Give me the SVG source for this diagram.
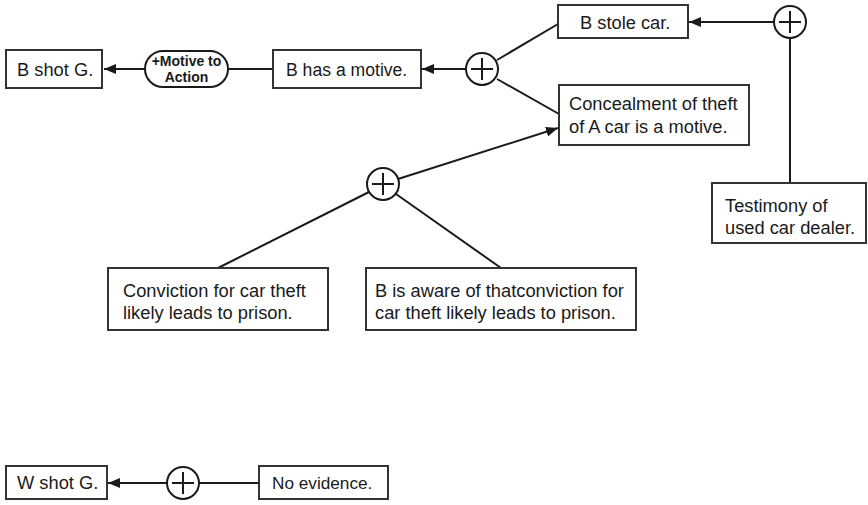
<svg xmlns="http://www.w3.org/2000/svg" width="868" height="505" viewBox="0 0 868 505">
  <defs>
    <marker id="arrow" viewBox="0 0 12 10" refX="12" refY="5" markerWidth="12" markerHeight="10" markerUnits="userSpaceOnUse" orient="auto">
      <path d="M0,0 L12,5 L0,10 Z" fill="#1a1a1a"/>
    </marker>
    <g id="plus">
      <circle cx="0" cy="0" r="16" fill="#fff" stroke="#1a1a1a" stroke-width="2"/>
      <path d="M-11,0 H11 M0,-11 V11" stroke="#1a1a1a" stroke-width="2" fill="none"/>
    </g>
  </defs>
  <style>
    .box { fill: #fff; stroke: #333; stroke-width: 2; }
    .pill { fill: #fff; stroke: #1a1a1a; stroke-width: 2; }
    .edge { stroke: #1a1a1a; stroke-width: 2; fill: none; }
    .t { font-family: "Liberation Sans", Arial, sans-serif; font-size: 18.3px; fill: #1a1a1a; }
    .tb { font-family: "Liberation Sans", Arial, sans-serif; font-size: 14px; font-weight: bold; fill: #1a1a1a; }
  </style>

  <rect width="868" height="505" fill="#fff"/>

  <!-- connectors -->
  <g id="connectors">
    <!-- upper argument -->
    <line class="edge" x1="145" y1="69" x2="104" y2="69" marker-end="url(#arrow)"/>
    <line class="edge" x1="273" y1="69" x2="228" y2="69"/>
    <line class="edge" x1="466" y1="69" x2="422" y2="69" marker-end="url(#arrow)"/>
    <line class="edge" x1="497" y1="60" x2="558" y2="24"/>
    <line class="edge" x1="497" y1="79" x2="559" y2="114"/>
    <line class="edge" x1="774" y1="22" x2="689" y2="22" marker-end="url(#arrow)"/>
    <line class="edge" x1="790" y1="38" x2="790" y2="183"/>
    <line class="edge" x1="398" y1="179" x2="558" y2="128" marker-end="url(#arrow)"/>
    <line class="edge" x1="369" y1="192" x2="218" y2="268"/>
    <line class="edge" x1="396" y1="194" x2="501" y2="268"/>
    <!-- lower argument -->
    <line class="edge" x1="167" y1="483" x2="108" y2="483" marker-end="url(#arrow)"/>
    <line class="edge" x1="199" y1="483" x2="259" y2="483"/>
  </g>

  <g id="b-shot-g">
    <rect class="box" x="6" y="50" width="96" height="38"/>
    <text class="t" x="17" y="76">B shot G.</text>
  </g>

  <g id="motive-to-action">
    <rect class="pill" x="145" y="51" width="83" height="36" rx="18" ry="18"/>
    <text class="tb" x="186.5" y="66" text-anchor="middle">+Motive to</text>
    <text class="tb" x="186.5" y="82" text-anchor="middle">Action</text>
  </g>

  <g id="b-has-motive">
    <rect class="box" x="273" y="50" width="148" height="38"/>
    <text class="t" x="286" y="76" style="font-size:17.6px">B has a motive.</text>
  </g>

  <g id="and-motive">
    <use href="#plus" x="482" y="69"/>
  </g>

  <g id="b-stole-car">
    <rect class="box" x="558" y="5" width="130" height="33"/>
    <text class="t" x="580" y="29">B stole car.</text>
  </g>

  <g id="and-stole">
    <use href="#plus" x="790" y="22"/>
  </g>

  <g id="concealment">
    <rect class="box" x="559" y="85" width="190" height="60"/>
    <text class="t" x="569" y="110">Concealment of theft</text>
    <text class="t" x="569" y="133">of A car is a motive.</text>
  </g>

  <g id="testimony">
    <rect class="box" x="712" y="183" width="154" height="60"/>
    <text class="t" x="725" y="212">Testimony of</text>
    <text class="t" x="725" y="234">used car dealer.</text>
  </g>

  <g id="and-concealment">
    <use href="#plus" x="383" y="184"/>
  </g>

  <g id="conviction">
    <rect class="box" x="108" y="268" width="220" height="62"/>
    <text class="t" x="123" y="297">Conviction for car theft</text>
    <text class="t" x="123" y="319">likely leads to prison.</text>
  </g>

  <g id="aware">
    <rect class="box" x="366" y="268" width="270" height="62"/>
    <text class="t" x="375" y="297">B is aware of thatconviction for</text>
    <text class="t" x="375" y="319">car theft likely leads to prison.</text>
  </g>

  <g id="w-shot-g">
    <rect class="box" x="6" y="466" width="101" height="33"/>
    <text class="t" x="17" y="489">W shot G.</text>
  </g>

  <g id="and-w">
    <use href="#plus" x="183" y="483"/>
  </g>

  <g id="no-evidence">
    <rect class="box" x="259" y="466" width="129" height="33"/>
    <text class="t" x="272" y="489" style="font-size:17.2px">No evidence.</text>
  </g>
</svg>
